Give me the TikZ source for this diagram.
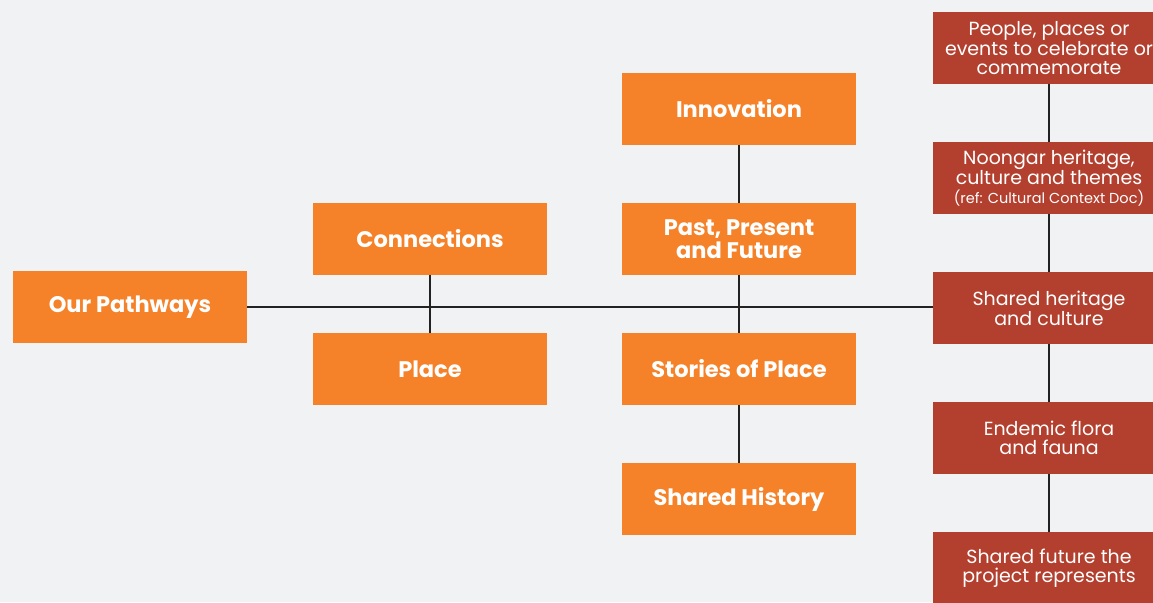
\documentclass[tikz,border=0pt]{standalone}
\usepackage{fontspec}
\setmainfont{Poppins}
\definecolor{bg}{HTML}{F1F2F4}
\definecolor{org}{HTML}{F58229}
\definecolor{rd}{HTML}{B3402F}
\definecolor{ln}{HTML}{222222}
\tikzset{
  obox/.style={fill=org, text=white, minimum width=234pt, minimum height=72pt, inner sep=0pt, align=center, font=\fontsize{22.5}{23}\selectfont\bfseries},
  rbox/.style={fill=rd, text=white, minimum width=232pt, minimum height=72pt, inner sep=0pt, align=center, font=\fontsize{19}{18.5}\selectfont},
  link/.style={draw=ln, line width=2pt}
}
\begin{document}
\begin{tikzpicture}[x=1pt,y=1pt]
\useasboundingbox (0,0) rectangle (1153,602);
\clip (0,0) rectangle (1153,602);
\fill[bg] (0,0) rectangle (1153,602);
\node[obox] (op) at (130,295) {Our Pathways};
\node[obox] (con) at (430,363) {Connections};
\node[obox] (pl) at (430,233) {Place};
\node[obox] (inn) at (739,493) {Innovation};
\node[obox] (ppf) at (739,363) {Past, Present\\and Future};
\node[obox] (sop) at (739,233) {Stories of Place};
\node[obox] (sh) at (739,103) {Shared History};
\node[rbox] (r1) at (1049,554) {People, places or\\events to celebrate or\\commemorate};
\node[rbox] (r2) at (1049,424) {Noongar heritage,\\culture and themes\\{\fontsize{14.5}{15}\selectfont (ref: Cultural Context Doc)}};
\node[rbox] (r3) at (1049,294) {Shared heritage\\and culture};
\node[rbox] (r4) at (1049,164) {Endemic flora\\and fauna};
\node[rbox] (r5) at (1049,34) {Shared future the\\project represents};
\draw[link] (op.east) -- (r3.west |- op.east);
\draw[link] (con.south) -- (pl.north);
\draw[link] (inn.south) -- (ppf.north);
\draw[link] (ppf.south) -- (sop.north);
\draw[link] (sop.south) -- (sh.north);
\draw[link] (r1.south) -- (r2.north);
\draw[link] (r2.south) -- (r3.north);
\draw[link] (r3.south) -- (r4.north);
\draw[link] (r4.south) -- (r5.north);
\end{tikzpicture}
\end{document}
